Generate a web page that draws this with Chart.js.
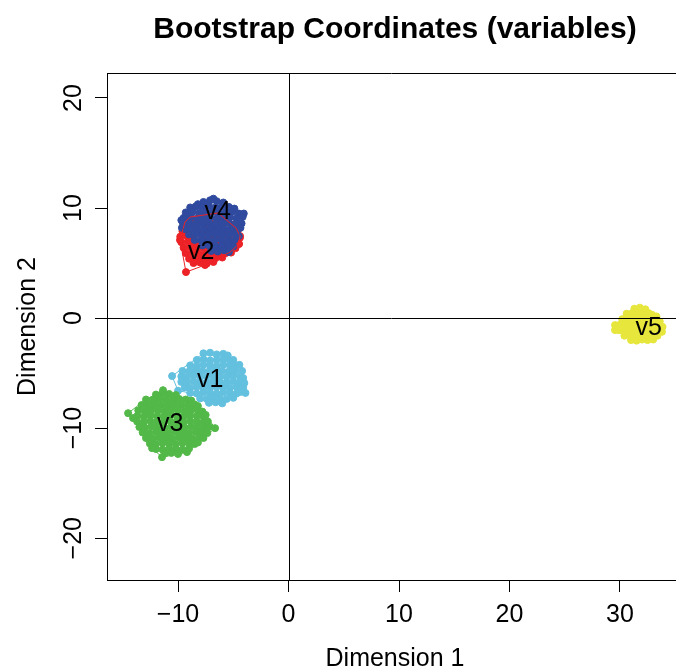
<!DOCTYPE html>
<html>
<head>
<meta charset="utf-8">
<title>Bootstrap Coordinates (variables)</title>
<script src="https://cdn.jsdelivr.net/npm/chart.js@4/dist/chart.umd.min.js"></script>
<style>
  html, body { margin: 0; padding: 0; background: #fff; }
  canvas { display: block; }
</style>
</head>
<body>
<canvas id="chart" width="676" height="670"></canvas>
<script>
// Bootstrap replicates of each variable's coordinates on dimensions 1 and 2
const v1Points = [
  [-7.7,-3.2],[-7.1,-3.15],[-6.5,-3.3],[-5.9,-3.25],[-5.5,-3.4],
  [-8.3,-3.8],[-7.7,-3.75],[-7.1,-3.85],[-6.5,-3.8],[-5.9,-3.75],[-5.3,-3.85],[-5.0,-3.8],
  [-8.9,-4.3],[-8.3,-4.35],[-7.7,-4.25],[-7.1,-4.3],[-6.5,-4.35],[-5.9,-4.25],[-5.3,-4.3],[-4.8,-4.35],[-4.45,-4.25],
  [-9.6,-4.8],[-9.0,-4.85],[-8.4,-4.75],[-7.8,-4.8],[-7.2,-4.85],[-6.6,-4.75],[-6.0,-4.8],[-5.4,-4.85],[-4.8,-4.75],[-4.2,-4.8],
  [-9.7,-5.3],[-9.2,-5.35],[-8.6,-5.25],[-8.0,-5.3],[-7.4,-5.35],[-6.8,-5.25],[-6.2,-5.3],[-5.6,-5.35],[-5.0,-5.25],[-4.4,-5.3],[-4.1,-5.45],
  [-9.7,-5.8],[-9.2,-5.85],[-8.6,-5.75],[-8.0,-5.8],[-7.4,-5.85],[-6.8,-5.75],[-6.2,-5.8],[-5.6,-5.85],[-5.0,-5.75],[-4.4,-5.8],[-4.0,-5.9],
  [-9.4,-6.3],[-8.9,-6.35],[-8.3,-6.25],[-7.7,-6.3],[-7.1,-6.35],[-6.5,-6.25],[-5.9,-6.3],[-5.3,-6.35],[-4.7,-6.25],[-4.1,-6.3],
  [-8.9,-6.8],[-8.3,-6.85],[-7.7,-6.75],[-7.1,-6.8],[-6.5,-6.85],[-5.9,-6.75],[-5.3,-6.8],[-4.7,-6.85],[-4.3,-6.7],[-3.9,-6.8],
  [-8.0,-7.3],[-7.4,-7.35],[-6.8,-7.25],[-6.2,-7.3],[-5.6,-7.35],[-5.0,-7.25],
  [-7.2,-7.7],[-6.6,-7.65],[-6.0,-7.75],
  [-10.54,-5.27],[-10.0,-6.6]
];
const v2Points = [
  [-8.8,9.0],[-8.0,9.05],[-7.2,8.95],[-6.4,9.0],[-5.6,8.9],
  [-9.2,8.5],[-8.4,8.45],[-7.6,8.5],[-6.8,8.55],[-6.0,8.45],[-5.2,8.5],[-4.7,8.3],
  [-9.6,7.9],[-9.0,7.95],[-8.2,7.85],[-7.4,7.9],[-6.6,7.95],[-5.8,7.85],[-5.0,7.9],[-4.6,7.95],
  [-9.8,7.4],[-9.2,7.45],[-8.6,7.35],[-7.8,7.4],[-7.0,7.45],[-6.2,7.35],[-5.4,7.4],[-4.7,7.45],[-4.4,7.3],
  [-9.7,6.9],[-9.1,6.95],[-8.5,6.85],[-7.9,6.9],[-7.3,6.95],[-6.7,6.85],[-6.1,6.9],[-5.5,6.95],[-4.9,6.85],[-4.5,6.75],
  [-9.5,6.4],[-8.9,6.45],[-8.3,6.35],[-7.7,6.4],[-7.1,6.45],[-6.5,6.35],[-5.9,6.4],[-5.3,6.45],[-4.8,6.35],
  [-9.3,5.9],[-8.7,5.95],[-8.1,5.85],[-7.5,5.9],[-6.9,5.95],[-6.3,5.85],[-5.7,5.9],[-5.2,5.95],
  [-9.0,5.4],[-8.4,5.45],[-7.8,5.35],[-7.2,5.4],[-6.6,5.45],[-6.0,5.5],
  [-8.6,5.0],[-8.0,5.05],[-7.4,4.95],[-6.8,5.1],
  [-9.28,4.18],[-7.56,4.82],[-4.39,7.45],[-4.48,6.73],[-5.29,6.0],[-9.82,7.09],
  [-4.75,8.18],[-6.38,9.55],[-8.91,9.18],[-9.37,8.73]
];
const v3Points = [
  [-12.0,-6.95],[-11.4,-6.85],[-10.8,-6.9],[-10.2,-7.0],
  [-12.9,-7.4],[-12.3,-7.45],[-11.7,-7.35],[-11.1,-7.4],[-10.5,-7.45],[-9.9,-7.35],[-9.3,-7.4],[-8.8,-7.5],
  [-13.3,-7.9],[-12.7,-7.95],[-12.1,-7.85],[-11.5,-7.9],[-10.9,-7.95],[-10.3,-7.85],[-9.7,-7.9],[-9.1,-7.95],[-8.5,-7.85],[-8.2,-8.0],
  [-13.6,-8.4],[-13.0,-8.45],[-12.4,-8.35],[-11.8,-8.4],[-11.2,-8.45],[-10.6,-8.35],[-10.0,-8.4],[-9.4,-8.45],[-8.8,-8.35],[-8.2,-8.4],[-7.8,-8.5],
  [-13.7,-8.9],[-13.1,-8.95],[-12.5,-8.85],[-11.9,-8.9],[-11.3,-8.95],[-10.7,-8.85],[-10.1,-8.9],[-9.5,-8.95],[-8.9,-8.85],[-8.3,-8.9],[-7.7,-8.95],[-7.5,-8.8],
  [-13.7,-9.4],[-13.1,-9.45],[-12.5,-9.35],[-11.9,-9.4],[-11.3,-9.45],[-10.7,-9.35],[-10.1,-9.4],[-9.5,-9.45],[-8.9,-9.35],[-8.3,-9.4],[-7.7,-9.45],[-7.3,-9.4],
  [-13.5,-9.9],[-13.0,-9.95],[-12.4,-9.85],[-11.8,-9.9],[-11.2,-9.95],[-10.6,-9.85],[-10.0,-9.9],[-9.4,-9.95],[-8.8,-9.85],[-8.2,-9.9],[-7.6,-9.95],[-7.2,-9.9],
  [-13.2,-10.4],[-12.6,-10.45],[-12.0,-10.35],[-11.4,-10.4],[-10.8,-10.45],[-10.2,-10.35],[-9.6,-10.4],[-9.0,-10.45],[-8.4,-10.35],[-7.8,-10.4],[-7.35,-10.45],
  [-12.9,-10.9],[-12.3,-10.95],[-11.7,-10.85],[-11.1,-10.9],[-10.5,-10.95],[-9.9,-10.85],[-9.3,-10.9],[-8.7,-10.95],[-8.1,-10.85],[-7.7,-10.9],
  [-12.55,-11.4],[-12.0,-11.45],[-11.4,-11.35],[-10.8,-11.4],[-10.2,-11.45],[-9.6,-11.35],[-9.0,-11.4],[-8.5,-11.45],[-8.2,-11.3],
  [-12.0,-11.9],[-11.4,-11.95],[-10.8,-11.85],[-10.2,-11.9],[-9.6,-11.95],[-9.0,-11.85],
  [-11.2,-12.3],[-10.6,-12.25],[-10.0,-12.35],
  [-14.52,-8.64],[-14.07,-9.09],[-6.65,-10.0],[-11.45,-12.64],[-12.35,-11.82],[-9.19,-12.18],[-11.36,-6.55]
];
const v4Points = [
  [-7.7,10.55],[-7.1,10.7],[-6.5,10.62],[-5.9,10.5],[-8.2,10.35],[-6.8,10.85],
  [-8.9,10.05],[-8.4,10.15],[-7.8,10.1],[-7.2,10.2],[-6.6,10.05],[-6.0,10.15],[-5.4,10.1],[-4.9,9.95],
  [-9.3,9.6],[-8.7,9.65],[-8.1,9.55],[-7.5,9.6],[-6.9,9.65],[-6.3,9.55],[-5.7,9.6],[-5.1,9.65],[-4.5,9.5],[-4.05,9.5],
  [-9.5,9.1],[-8.9,9.15],[-8.3,9.05],[-7.7,9.1],[-7.1,9.15],[-6.5,9.05],[-5.9,9.1],[-5.3,9.15],[-4.7,9.05],[-4.15,9.2],
  [-9.7,8.9],[-9.55,8.6],[-9.0,8.65],[-8.4,8.55],[-7.8,8.6],[-7.2,8.65],[-6.6,8.55],[-6.0,8.6],[-5.4,8.65],[-4.8,8.55],[-4.25,8.6],
  [-9.65,8.2],[-9.4,8.1],[-8.8,8.15],[-8.2,8.05],[-7.6,8.1],[-7.0,8.15],[-6.4,8.05],[-5.8,8.1],[-5.2,8.15],[-4.6,8.05],[-4.35,8.2],
  [-9.0,7.6],[-8.4,7.65],[-7.8,7.55],[-7.2,7.6],[-6.6,7.65],[-6.0,7.55],[-5.4,7.6],[-4.8,7.65],[-4.5,7.45],
  [-8.5,7.1],[-7.9,7.15],[-7.3,7.05],[-6.7,7.1],[-6.1,7.15],[-5.5,7.05],[-4.9,7.1],
  [-7.8,6.6],[-7.2,6.65],[-6.6,6.55],[-6.0,6.6],[-5.4,6.65],[-5.0,6.5],
  [-7.0,6.1],[-6.4,6.05],[-5.8,6.15],[-5.4,6.0]
];
const v5Points = [
  [31.3,0.85],[31.8,0.95],[32.3,0.8],
  [30.6,0.4],[31.1,0.45],[31.6,0.35],[32.1,0.4],[32.6,0.45],[32.9,0.3],[33.3,0.15],
  [30.2,-0.1],[30.7,-0.05],[31.2,-0.15],[31.7,-0.1],[32.2,-0.05],[32.7,-0.15],[33.2,-0.1],[33.6,-0.3],
  [30.0,-0.6],[30.5,-0.55],[31.0,-0.65],[31.5,-0.6],[32.0,-0.55],[32.5,-0.65],[33.0,-0.6],[33.5,-0.6],[33.85,-0.8],
  [29.9,-1.1],[30.4,-1.05],[30.9,-1.15],[31.4,-1.1],[31.9,-1.05],[32.4,-1.15],[32.9,-1.1],[33.5,-1.05],[33.8,-1.25],
  [30.4,-1.6],[30.9,-1.55],[31.4,-1.65],[31.9,-1.6],[32.4,-1.55],[32.9,-1.65],[33.4,-1.6],
  [31.0,-2.0],[31.5,-2.05],[32.0,-1.95],[32.5,-2.0],[33.0,-1.95],
  [29.55,-0.64],[29.55,-1.09]
];

// Convex hulls around each cloud (closed polygons)
const v1Hull = [[-10.54,-5.27],[-7.7,-3.2],[-7.1,-3.15],[-5.9,-3.25],[-5.0,-3.8],[-4.45,-4.25],[-4.2,-4.8],[-4.1,-5.45],[-4.0,-5.9],[-3.9,-6.8],[-5.0,-7.25],[-6.0,-7.75],[-7.2,-7.7],[-8.0,-7.3],[-8.9,-6.8],[-10.0,-6.6],[-10.54,-5.27]];
const v2Hull = [[-9.28,4.18],[-7.56,4.82],[-5.29,6.0],[-4.48,6.73],[-4.39,7.45],[-4.75,8.18],[-6.38,9.55],[-8.91,9.18],[-9.37,8.73],[-9.82,7.09],[-9.28,4.18]];
const v3Hull = [[-14.52,-8.64],[-12.9,-7.4],[-11.36,-6.55],[-10.2,-7.0],[-8.8,-7.5],[-8.2,-8.0],[-7.8,-8.5],[-7.5,-8.8],[-6.65,-10.0],[-9.19,-12.18],[-10.0,-12.35],[-11.45,-12.64],[-12.35,-11.82],[-14.07,-9.09],[-14.52,-8.64]];
const v4Hull = [[-6.8,10.85],[-5.9,10.5],[-4.9,9.95],[-4.05,9.5],[-4.5,7.45],[-5.0,6.5],[-5.4,6.0],[-6.4,6.05],[-7.0,6.1],[-7.8,6.6],[-8.5,7.1],[-9.0,7.6],[-9.65,8.2],[-9.7,8.9],[-9.3,9.6],[-8.9,10.05],[-8.2,10.35],[-7.7,10.55],[-6.8,10.85]];
const v5Hull = [[29.55,-0.64],[30.6,0.4],[31.3,0.85],[31.8,0.95],[32.3,0.8],[32.9,0.3],[33.3,0.15],[33.6,-0.3],[33.85,-0.8],[33.8,-1.25],[33.4,-1.6],[33.0,-1.95],[32.5,-2.0],[31.5,-2.05],[31.0,-2.0],[29.55,-1.09],[29.55,-0.64]];

// Variable labels and where they sit
const varNames = ['v1', 'v2', 'v3', 'v4', 'v5'];
const varLabelX = [-7.1, -7.9, -10.7, -6.4, 32.6];
const varLabelY = [-5.6, 6.0, -9.6, 9.6, -0.9];
const varColors = ['#63c0df', '#ec2227', '#52b848', '#2f4a9e', '#e6e63c'];

// Axis ticks
const xTicks = [-10, 0, 10, 20, 30];
const yTicks = [-20, -10, 0, 10, 20];

const pointSets = [v1Points, v2Points, v3Points, v4Points, v5Points];
const hullSets = [v1Hull, v2Hull, v3Hull, v4Hull, v5Hull];
const toXY = arr => arr.map(p => ({ x: p[0], y: p[1] }));

const FONT = '"Liberation Sans", Arial, Helvetica, sans-serif';
const fmt = v => String(v).replace('-', '\u2212');

const datasets = [];
// clouds: later variables painted over earlier ones
pointSets.forEach((pts, i) => {
  datasets.push({
    label: varNames[i],
    data: toXY(pts),
    showLine: false,
    pointRadius: 3.5,
    pointBorderWidth: 1,
    pointBackgroundColor: varColors[i],
    pointBorderColor: varColors[i],
    order: 20 - i
  });
});
// hull outlines above all clouds
hullSets.forEach((pts, i) => {
  datasets.push({
    label: varNames[i] + ' hull',
    data: toXY(pts),
    showLine: true,
    fill: false,
    tension: 0,
    borderWidth: 1,
    borderColor: varColors[i],
    pointRadius: 0,
    order: 10 - i
  });
});

const decor = {
  id: 'decor',
  afterDatasetsDraw(chart) {
    const { ctx, chartArea: a, scales: { x, y } } = chart;
    ctx.save();
    ctx.strokeStyle = '#000';
    ctx.lineWidth = 1;
    const x0 = Math.round(x.getPixelForValue(0)) + 0.5;
    const y0 = Math.round(y.getPixelForValue(0)) + 0.5;
    ctx.beginPath();
    ctx.moveTo(x0, a.top); ctx.lineTo(x0, a.bottom);
    ctx.moveTo(a.left, y0); ctx.lineTo(a.right, y0);
    // upper frame edge
    ctx.moveTo(a.left, Math.round(a.top) + 0.5); ctx.lineTo(a.right, Math.round(a.top) + 0.5);
    ctx.stroke();

    ctx.fillStyle = '#000';
    ctx.font = '25px ' + FONT;
    ctx.textAlign = 'center';
    ctx.textBaseline = 'middle';
    varNames.forEach((n, i) => {
      ctx.fillText(n, x.getPixelForValue(varLabelX[i]), y.getPixelForValue(varLabelY[i]));
    });
    ctx.restore();
  },
  afterDraw(chart) {
    const { ctx, scales: { x, y } } = chart;
    ctx.save();
    ctx.fillStyle = '#000';
    ctx.textAlign = 'center';
    ctx.textBaseline = 'alphabetic';

    ctx.font = 'bold 30px ' + FONT;
    ctx.fillText('Bootstrap Coordinates (variables)', 395, 38);

    ctx.font = '25px ' + FONT;
    xTicks.forEach(v => ctx.fillText(fmt(v), x.getPixelForValue(v), 622));
    yTicks.forEach(v => {
      ctx.save();
      ctx.translate(81, y.getPixelForValue(v));
      ctx.rotate(-Math.PI / 2);
      ctx.fillText(fmt(v), 0, 0);
      ctx.restore();
    });

    ctx.fillText('Dimension 1', 395, 666);
    ctx.save();
    ctx.translate(35, 326.5);
    ctx.rotate(-Math.PI / 2);
    ctx.fillText('Dimension 2', 0, 0);
    ctx.restore();
    ctx.restore();
  }
};

const axisCommon = {
  type: 'linear',
  ticks: { display: false },
  grid: { drawOnChartArea: false, drawTicks: true, tickLength: 12, color: '#000', lineWidth: 1 },
  border: { display: true, color: '#000', width: 1 }
};

new Chart(document.getElementById('chart'), {
  type: 'scatter',
  data: { datasets },
  options: {
    responsive: false,
    devicePixelRatio: 1,
    animation: false,
    events: [],
    layout: { autoPadding: false, padding: { top: 73, right: 0, bottom: 0, left: 0 } },
    plugins: { legend: { display: false }, title: { display: false }, tooltip: { enabled: false } },
    scales: {
      x: Object.assign({}, axisCommon, {
        position: 'bottom',
        min: -16.43, max: 35.07,
        afterBuildTicks: s => { s.ticks = xTicks.map(v => ({ value: v })); },
        afterFit: s => { s.height = 90; }
      }),
      y: Object.assign({}, axisCommon, {
        position: 'left',
        min: -23.8, max: 22.27,
        afterBuildTicks: s => { s.ticks = yTicks.map(v => ({ value: v })); },
        afterFit: s => { s.width = 107; }
      })
    }
  },
  plugins: [decor]
});
</script>
</body>
</html>
